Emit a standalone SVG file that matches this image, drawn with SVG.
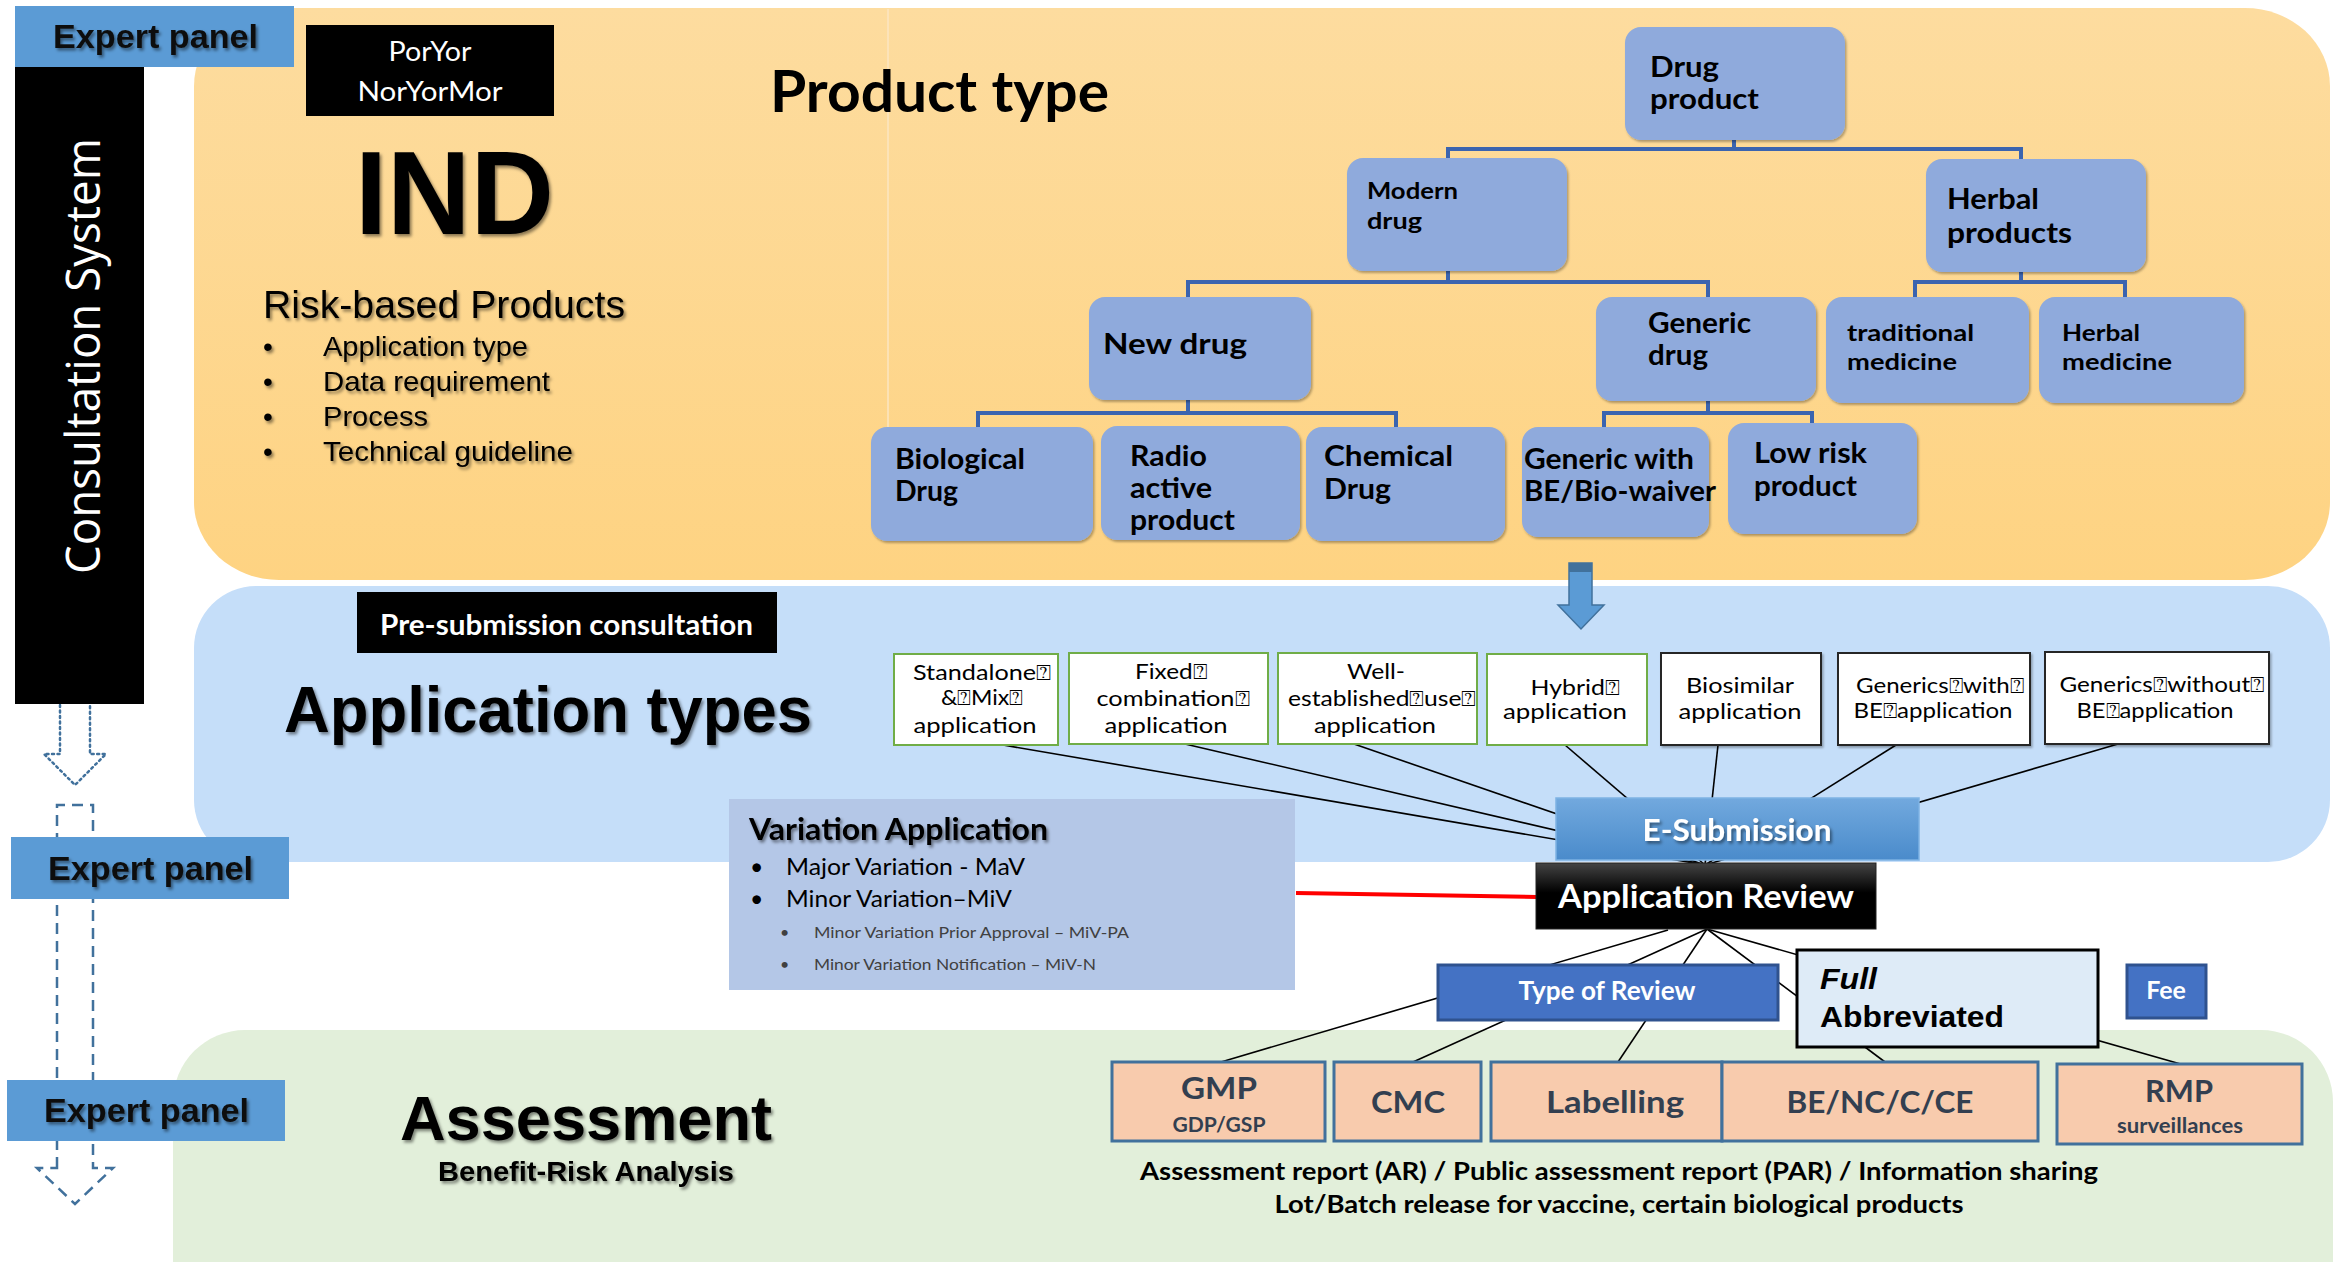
<svg xmlns="http://www.w3.org/2000/svg" width="2343" height="1262" viewBox="0 0 2343 1262">
<defs>
  <linearGradient id="gOrange" x1="0" y1="0" x2="0" y2="1">
    <stop offset="0" stop-color="#FDDC9F"/>
    <stop offset="1" stop-color="#FED382"/>
  </linearGradient>
  <linearGradient id="gEsub" x1="0" y1="0" x2="0" y2="1">
    <stop offset="0" stop-color="#72A9DE"/>
    <stop offset="1" stop-color="#4A8BCB"/>
  </linearGradient>
  <linearGradient id="gReview" x1="0" y1="0" x2="0" y2="1">
    <stop offset="0" stop-color="#444444"/>
    <stop offset="0.45" stop-color="#000000"/>
    <stop offset="1" stop-color="#000000"/>
  </linearGradient>
  <filter id="ts" x="-10%" y="-20%" width="130%" height="160%">
    <feDropShadow dx="2" dy="2.5" stdDeviation="1.5" flood-color="#000" flood-opacity="0.45"/>
  </filter>
  <filter id="bs" x="-10%" y="-10%" width="130%" height="130%">
    <feDropShadow dx="1.5" dy="2" stdDeviation="1.2" flood-color="#000" flood-opacity="0.3"/>
  </filter>
  <style>
    .arial{font-family:"Liberation Sans",Arial,sans-serif}
    .cal{font-family:Lato,"Open Sans",sans-serif}
    .b{font-weight:bold}
    .tb{fill:#8FAADC;filter:url(#bs)}
    .tt{font-family:Lato,"Open Sans",sans-serif;font-weight:bold;font-size:29px;fill:#000}
    .ts{font-size:23px}
    .tc{fill:none;stroke:#3B64AF;stroke-width:4}
    .ln{fill:none;stroke:#000;stroke-width:1.6}
    .appg{fill:#fff;stroke:#70AD47;stroke-width:2}
    .appk{fill:#fff;stroke:#262626;stroke-width:2;filter:url(#bs)}
    .at{font-family:Lato,"Open Sans",sans-serif;font-size:22px;fill:#000;text-anchor:middle}
    .pb{fill:#F8CBAD;stroke:#41719C;stroke-width:3}
    .pt{font-family:Lato,"Open Sans",sans-serif;font-weight:bold;fill:#333F50;text-anchor:middle}
    .ep{fill:#5B9BD5}
    .ept{font-family:"Liberation Sans",Arial,sans-serif;font-weight:bold;font-size:33px;fill:#111;filter:url(#ts)}
  </style>
</defs>

<!-- background panels -->
<g id="panels">
  <rect x="194" y="8" width="2136" height="572" rx="85" ry="78" fill="url(#gOrange)"/>
  <line x1="888" y1="9" x2="888" y2="430" stroke="#FBE6C2" stroke-width="1.5"/>
  <rect x="194" y="586" width="2136" height="276" rx="62" ry="62" fill="#C5DEF9"/>
  <rect x="173" y="1030" width="2160" height="320" rx="72" ry="72" fill="#E2EFDA"/>
</g>

<!-- left side: consultation system and expert panels -->
<g id="left-arrows">
  <path d="M60,705 V754 H44 L75,785 L106,754 H90 V705" fill="none" stroke="#41719C" stroke-width="2.5" stroke-dasharray="2 3.5" stroke-linecap="round"/>
  <path d="M57,1168 V805 H93 V1168 H113 L75,1204 L37,1168 Z" fill="none" stroke="#41719C" stroke-width="2.5" stroke-dasharray="11 7"/>
</g>
<g id="consultation-system">
  <rect x="15" y="66" width="129" height="638" fill="#000"/>
  <text transform="translate(100,356) rotate(-90)" text-anchor="middle" font-family="'Open Sans','DejaVu Sans',sans-serif" font-size="48" fill="#fff" textLength="436" lengthAdjust="spacingAndGlyphs">Consultation System</text>
</g>
<g id="expert-panel-1">
  <rect class="ep" x="15" y="6" width="279" height="61"/>
  <text class="ept" x="53" y="48" textLength="205" lengthAdjust="spacingAndGlyphs">Expert panel</text>
</g>
<g id="expert-panel-2">
  <rect class="ep" x="11" y="837" width="278" height="62"/>
  <text class="ept" x="48" y="880" textLength="205" lengthAdjust="spacingAndGlyphs">Expert panel</text>
</g>
<g id="expert-panel-3">
  <rect class="ep" x="7" y="1080" width="278" height="61"/>
  <text class="ept" x="44" y="1122" textLength="205" lengthAdjust="spacingAndGlyphs">Expert panel</text>
</g>

<!-- IND section -->
<g id="poryor">
  <rect x="306" y="25" width="248" height="91" fill="#000"/>
  <text class="cal" x="430" y="61" text-anchor="middle" font-size="26" fill="#fff" textLength="83" lengthAdjust="spacingAndGlyphs">PorYor</text>
  <text class="cal" x="430" y="101" text-anchor="middle" font-size="26" fill="#fff" textLength="145" lengthAdjust="spacingAndGlyphs">NorYorMor</text>
</g>
<g id="ind">
  <text class="arial b" x="355" y="234" font-size="118" fill="#000" filter="url(#ts)" textLength="199" lengthAdjust="spacingAndGlyphs">IND</text>
  <text class="arial" x="263" y="318" font-size="38" fill="#000" filter="url(#ts)" textLength="362" lengthAdjust="spacingAndGlyphs">Risk-based Products</text>
  <g class="arial" font-size="28" fill="#000" filter="url(#ts)">
    <text x="263" y="356">•</text><text x="323" y="356" textLength="205" lengthAdjust="spacingAndGlyphs">Application type</text>
    <text x="263" y="391">•</text><text x="323" y="391" textLength="227" lengthAdjust="spacingAndGlyphs">Data requirement</text>
    <text x="263" y="426">•</text><text x="323" y="426" textLength="105" lengthAdjust="spacingAndGlyphs">Process</text>
    <text x="263" y="461">•</text><text x="323" y="461" textLength="250" lengthAdjust="spacingAndGlyphs">Technical guideline</text>
  </g>
</g>
<g id="product-type-title">
  <text class="cal b" x="770" y="112" font-size="58" fill="#000" textLength="339" lengthAdjust="spacingAndGlyphs">Product type</text>
</g>

<!-- connectors -->
<g id="connectors">
  <!-- tree -->
  <path class="tc" d="M1734,140 V149 M1448,158 V149 H2021 V159"/>
  <path class="tc" d="M1448,271 V282 M1188,297 V282 H1708 V297"/>
  <path class="tc" d="M2021,272 V282 M1915,297 V282 H2125 V297"/>
  <path class="tc" d="M1188,400 V413 M978,427 V413 H1396 V427"/>
  <path class="tc" d="M1708,401 V413 M1604,427 V413 H1812 V425"/>
  <!-- block arrow product type -> application types -->
  <path d="M1569,563 H1592 V605 H1604 L1581,629 L1558,605 H1569 Z" fill="#5B9BD5" stroke="#41719C" stroke-width="1.5"/>
  <rect x="1569" y="563" width="23" height="9" fill="#41719C"/>
  <!-- application types -> submission -->
  <path class="ln" d="M1003,745 L1705,865"/>
  <path class="ln" d="M1185,744 L1705,865"/>
  <path class="ln" d="M1354,744 L1705,865"/>
  <path class="ln" d="M1565,745 L1705,865"/>
  <path class="ln" d="M1718,745 L1705,865"/>
  <path class="ln" d="M1896,745 L1705,865"/>
  <path class="ln" d="M2118,744 L1705,865"/>
  <!-- variation -> review -->
  <path d="M1296,893 L1537,897" fill="none" stroke="#FF0000" stroke-width="4"/>
  <!-- review -> assessment -->
  <path class="ln" d="M1668,930 L1221,1062"/>
  <path class="ln" d="M1707,929 L1413,1062"/>
  <path class="ln" d="M1707,929 L1618,1062"/>
  <path class="ln" d="M1707,929 L1885,1062"/>
  <path class="ln" d="M1707,929 L2184,1065"/>
</g>

<!-- product tree nodes -->
<g id="drug-product"><rect class="tb" x="1625" y="27" width="220" height="113" rx="16"/>
  <text class="tt" x="1650" y="77" textLength="69" lengthAdjust="spacingAndGlyphs">Drug</text>
  <text class="tt" x="1650" y="109" textLength="109" lengthAdjust="spacingAndGlyphs">product</text></g>
<g id="modern-drug"><rect class="tb" x="1347" y="158" width="220" height="113" rx="16"/>
  <text class="tt ts" x="1367" y="199" textLength="91" lengthAdjust="spacingAndGlyphs">Modern</text>
  <text class="tt ts" x="1367" y="229" textLength="55" lengthAdjust="spacingAndGlyphs">drug</text></g>
<g id="herbal-products"><rect class="tb" x="1926" y="159" width="220" height="113" rx="16"/>
  <text class="tt" x="1947" y="209" textLength="92" lengthAdjust="spacingAndGlyphs">Herbal</text>
  <text class="tt" x="1947" y="243" textLength="125" lengthAdjust="spacingAndGlyphs">products</text></g>
<g id="new-drug"><rect class="tb" x="1089" y="297" width="222" height="103" rx="16"/>
  <text class="tt" x="1103" y="354" textLength="144" lengthAdjust="spacingAndGlyphs">New drug</text></g>
<g id="generic-drug"><rect class="tb" x="1596" y="297" width="220" height="104" rx="16"/>
  <text class="tt" x="1648" y="333" textLength="103" lengthAdjust="spacingAndGlyphs">Generic</text>
  <text class="tt" x="1648" y="365" textLength="60" lengthAdjust="spacingAndGlyphs">drug</text></g>
<g id="traditional-medicine"><rect class="tb" x="1826" y="297" width="203" height="106" rx="16"/>
  <text class="tt ts" x="1847" y="341" textLength="127" lengthAdjust="spacingAndGlyphs">traditional</text>
  <text class="tt ts" x="1847" y="370" textLength="110" lengthAdjust="spacingAndGlyphs">medicine</text></g>
<g id="herbal-medicine"><rect class="tb" x="2039" y="297" width="205" height="106" rx="16"/>
  <text class="tt ts" x="2062" y="341" textLength="78" lengthAdjust="spacingAndGlyphs">Herbal</text>
  <text class="tt ts" x="2062" y="370" textLength="110" lengthAdjust="spacingAndGlyphs">medicine</text></g>
<g id="biological-drug"><rect class="tb" x="871" y="427" width="222" height="114" rx="16"/>
  <text class="tt" x="895" y="469" textLength="130" lengthAdjust="spacingAndGlyphs">Biological</text>
  <text class="tt" x="895" y="501" textLength="63" lengthAdjust="spacingAndGlyphs">Drug</text></g>
<g id="radio-active-product"><rect class="tb" x="1101" y="426" width="199" height="114" rx="16"/>
  <text class="tt" x="1130" y="466" textLength="77" lengthAdjust="spacingAndGlyphs">Radio</text>
  <text class="tt" x="1130" y="498" textLength="82" lengthAdjust="spacingAndGlyphs">active</text>
  <text class="tt" x="1130" y="530" textLength="105" lengthAdjust="spacingAndGlyphs">product</text></g>
<g id="chemical-drug"><rect class="tb" x="1306" y="427" width="199" height="114" rx="16"/>
  <text class="tt" x="1324" y="466" textLength="129" lengthAdjust="spacingAndGlyphs">Chemical</text>
  <text class="tt" x="1324" y="499" textLength="67" lengthAdjust="spacingAndGlyphs">Drug</text></g>
<g id="generic-be"><rect class="tb" x="1522" y="427" width="187" height="110" rx="16"/>
  <text class="tt" x="1524" y="469" textLength="170" lengthAdjust="spacingAndGlyphs">Generic with</text>
  <text class="tt" x="1524" y="501" textLength="192" lengthAdjust="spacingAndGlyphs">BE/Bio-waiver</text></g>
<g id="low-risk-product"><rect class="tb" x="1728" y="423" width="189" height="111" rx="16"/>
  <text class="tt" x="1754" y="463" textLength="113" lengthAdjust="spacingAndGlyphs">Low risk</text>
  <text class="tt" x="1754" y="496" textLength="103" lengthAdjust="spacingAndGlyphs">product</text></g>

<!-- application types section -->
<g id="pre-submission">
  <rect x="357" y="592" width="420" height="61" fill="#000"/>
  <text class="cal b" x="380" y="635" font-size="28" fill="#fff" textLength="373" lengthAdjust="spacingAndGlyphs">Pre-submission consultation</text>
</g>
<g id="application-types-title">
  <text class="arial b" x="284" y="732" font-size="64" fill="#000" filter="url(#ts)" textLength="528" lengthAdjust="spacingAndGlyphs">Application types</text>
</g>
<g id="app-standalone"><rect class="appg" x="894" y="654" width="164" height="91"/>
  <text class="at" x="982" y="680" textLength="138" lengthAdjust="spacingAndGlyphs">Standalone⍰</text>
  <text class="at" x="982" y="705" textLength="82" lengthAdjust="spacingAndGlyphs">&amp;⍰Mix⍰</text>
  <text class="at" x="975" y="733" textLength="123" lengthAdjust="spacingAndGlyphs">application</text></g>
<g id="app-fixed"><rect class="appg" x="1069" y="653" width="199" height="91"/>
  <text class="at" x="1171" y="679" textLength="72" lengthAdjust="spacingAndGlyphs">Fixed⍰</text>
  <text class="at" x="1173" y="706" textLength="153" lengthAdjust="spacingAndGlyphs">combination⍰</text>
  <text class="at" x="1166" y="733" textLength="123" lengthAdjust="spacingAndGlyphs">application</text></g>
<g id="app-well-established"><rect class="appg" x="1278" y="653" width="199" height="91"/>
  <text class="at" x="1376" y="679" textLength="58" lengthAdjust="spacingAndGlyphs">Well-</text>
  <text class="at" x="1382" y="706" textLength="188" lengthAdjust="spacingAndGlyphs">established⍰use⍰</text>
  <text class="at" x="1375" y="733" textLength="122" lengthAdjust="spacingAndGlyphs">application</text></g>
<g id="app-hybrid"><rect class="appg" x="1487" y="654" width="160" height="91"/>
  <text class="at" x="1575" y="695" textLength="89" lengthAdjust="spacingAndGlyphs">Hybrid⍰</text>
  <text class="at" x="1565" y="719" textLength="124" lengthAdjust="spacingAndGlyphs">application</text></g>
<g id="app-biosimilar"><rect class="appk" x="1661" y="653" width="160" height="92"/>
  <text class="at" x="1740" y="693" textLength="108" lengthAdjust="spacingAndGlyphs">Biosimilar</text>
  <text class="at" x="1740" y="719" textLength="123" lengthAdjust="spacingAndGlyphs">application</text></g>
<g id="app-generics-with-be"><rect class="appk" x="1838" y="653" width="192" height="92"/>
  <text class="at" x="1940" y="693" textLength="168" lengthAdjust="spacingAndGlyphs">Generics⍰with⍰</text>
  <text class="at" x="1933" y="718" textLength="159" lengthAdjust="spacingAndGlyphs">BE⍰application</text></g>
<g id="app-generics-without-be"><rect class="appk" x="2045" y="652" width="224" height="92"/>
  <text class="at" x="2162" y="692" textLength="205" lengthAdjust="spacingAndGlyphs">Generics⍰without⍰</text>
  <text class="at" x="2155" y="718" textLength="157" lengthAdjust="spacingAndGlyphs">BE⍰application</text></g>

<g id="e-submission">
  <rect x="1556" y="798" width="363" height="62" fill="url(#gEsub)" stroke="#7DB2E3" stroke-width="1.5"/>
  <text class="cal b" x="1737" y="841" text-anchor="middle" font-size="30" fill="#fff" filter="url(#ts)" textLength="189" lengthAdjust="spacingAndGlyphs">E-Submission</text>
</g>
<g id="variation-application">
  <rect x="729" y="799" width="566" height="191" fill="#B4C7E7"/>
  <text class="cal b" x="749" y="840" font-size="31" fill="#000" filter="url(#ts)" textLength="299" lengthAdjust="spacingAndGlyphs">Variation Application</text>
  <g class="cal" font-size="23" fill="#000">
    <text x="750" y="875">•</text><text x="786" y="875" textLength="239" lengthAdjust="spacingAndGlyphs">Major Variation - MaV</text>
    <text x="750" y="907">•</text><text x="786" y="907" textLength="226" lengthAdjust="spacingAndGlyphs">Minor Variation–MiV</text>
  </g>
  <g class="cal" font-size="16" fill="#404040">
    <text x="780" y="938">•</text><text x="814" y="938" textLength="315" lengthAdjust="spacingAndGlyphs">Minor Variation Prior Approval – MiV-PA</text>
    <text x="780" y="970">•</text><text x="814" y="970" textLength="282" lengthAdjust="spacingAndGlyphs">Minor Variation Notification – MiV-N</text>
  </g>
</g>
<g id="application-review">
  <rect x="1536" y="863" width="340" height="66" fill="url(#gReview)" stroke="#222" stroke-width="1"/>
  <text class="cal b" x="1706" y="908" text-anchor="middle" font-size="33" fill="#fff" textLength="296" lengthAdjust="spacingAndGlyphs">Application Review</text>
</g>
<g id="type-of-review">
  <rect x="1438" y="965" width="340" height="55" fill="#4472C4" stroke="#2F528F" stroke-width="3"/>
  <text class="cal b" x="1607" y="1000" text-anchor="middle" font-size="26" fill="#fff" textLength="177" lengthAdjust="spacingAndGlyphs">Type of Review</text>
</g>
<g id="full-abbreviated">
  <rect x="1797" y="950" width="301" height="97" fill="#DEEBF7" stroke="#000" stroke-width="3"/>
  <text class="arial b" x="1820" y="989" font-size="30" font-style="italic" fill="#000" textLength="57" lengthAdjust="spacingAndGlyphs">Full</text>
  <text class="arial b" x="1820" y="1027" font-size="30" fill="#000" textLength="184" lengthAdjust="spacingAndGlyphs">Abbreviated</text>
</g>
<g id="fee">
  <rect x="2127" y="965" width="79" height="53" fill="#4472C4" stroke="#2F528F" stroke-width="3"/>
  <text class="cal b" x="2166" y="999" text-anchor="middle" font-size="25" fill="#fff">Fee</text>
</g>

<!-- assessment section -->
<g id="assessment-title">
  <text class="arial b" x="400" y="1140" font-size="63" fill="#000" filter="url(#ts)" textLength="372" lengthAdjust="spacingAndGlyphs">Assessment</text>
  <text class="arial b" x="438" y="1181" font-size="28" fill="#000" filter="url(#ts)" textLength="296" lengthAdjust="spacingAndGlyphs">Benefit-Risk Analysis</text>
</g>
<g id="gmp"><rect class="pb" x="1112" y="1062" width="213" height="79"/>
  <text class="pt" x="1219" y="1099" font-size="30" textLength="76" lengthAdjust="spacingAndGlyphs">GMP</text>
  <text class="pt" x="1219" y="1132" font-size="20" textLength="93" lengthAdjust="spacingAndGlyphs">GDP/GSP</text></g>
<g id="cmc"><rect class="pb" x="1334" y="1062" width="147" height="79"/>
  <text class="pt" x="1408" y="1113" font-size="30" textLength="74" lengthAdjust="spacingAndGlyphs">CMC</text></g>
<g id="labelling"><rect class="pb" x="1491" y="1062" width="231" height="79"/>
  <text class="pt" x="1615" y="1113" font-size="30" textLength="138" lengthAdjust="spacingAndGlyphs">Labelling</text></g>
<g id="be-nc-c-ce"><rect class="pb" x="1722" y="1062" width="316" height="79"/>
  <text class="pt" x="1880" y="1113" font-size="30" textLength="187" lengthAdjust="spacingAndGlyphs">BE/NC/C/CE</text></g>
<g id="rmp"><rect class="pb" x="2057" y="1064" width="245" height="80"/>
  <text class="pt" x="2179" y="1102" font-size="30" textLength="68" lengthAdjust="spacingAndGlyphs">RMP</text>
  <text class="pt" x="2180" y="1133" font-size="20" textLength="126" lengthAdjust="spacingAndGlyphs">surveillances</text></g>
<g id="assessment-outputs">
  <text class="cal b" x="1619" y="1180" text-anchor="middle" font-size="25" fill="#000" textLength="958" lengthAdjust="spacingAndGlyphs">Assessment report (AR) / Public assessment report (PAR) / Information sharing</text>
  <text class="cal b" x="1619" y="1213" text-anchor="middle" font-size="25" fill="#000" textLength="689" lengthAdjust="spacingAndGlyphs">Lot/Batch release for vaccine, certain biological products</text>
</g>
</svg>
